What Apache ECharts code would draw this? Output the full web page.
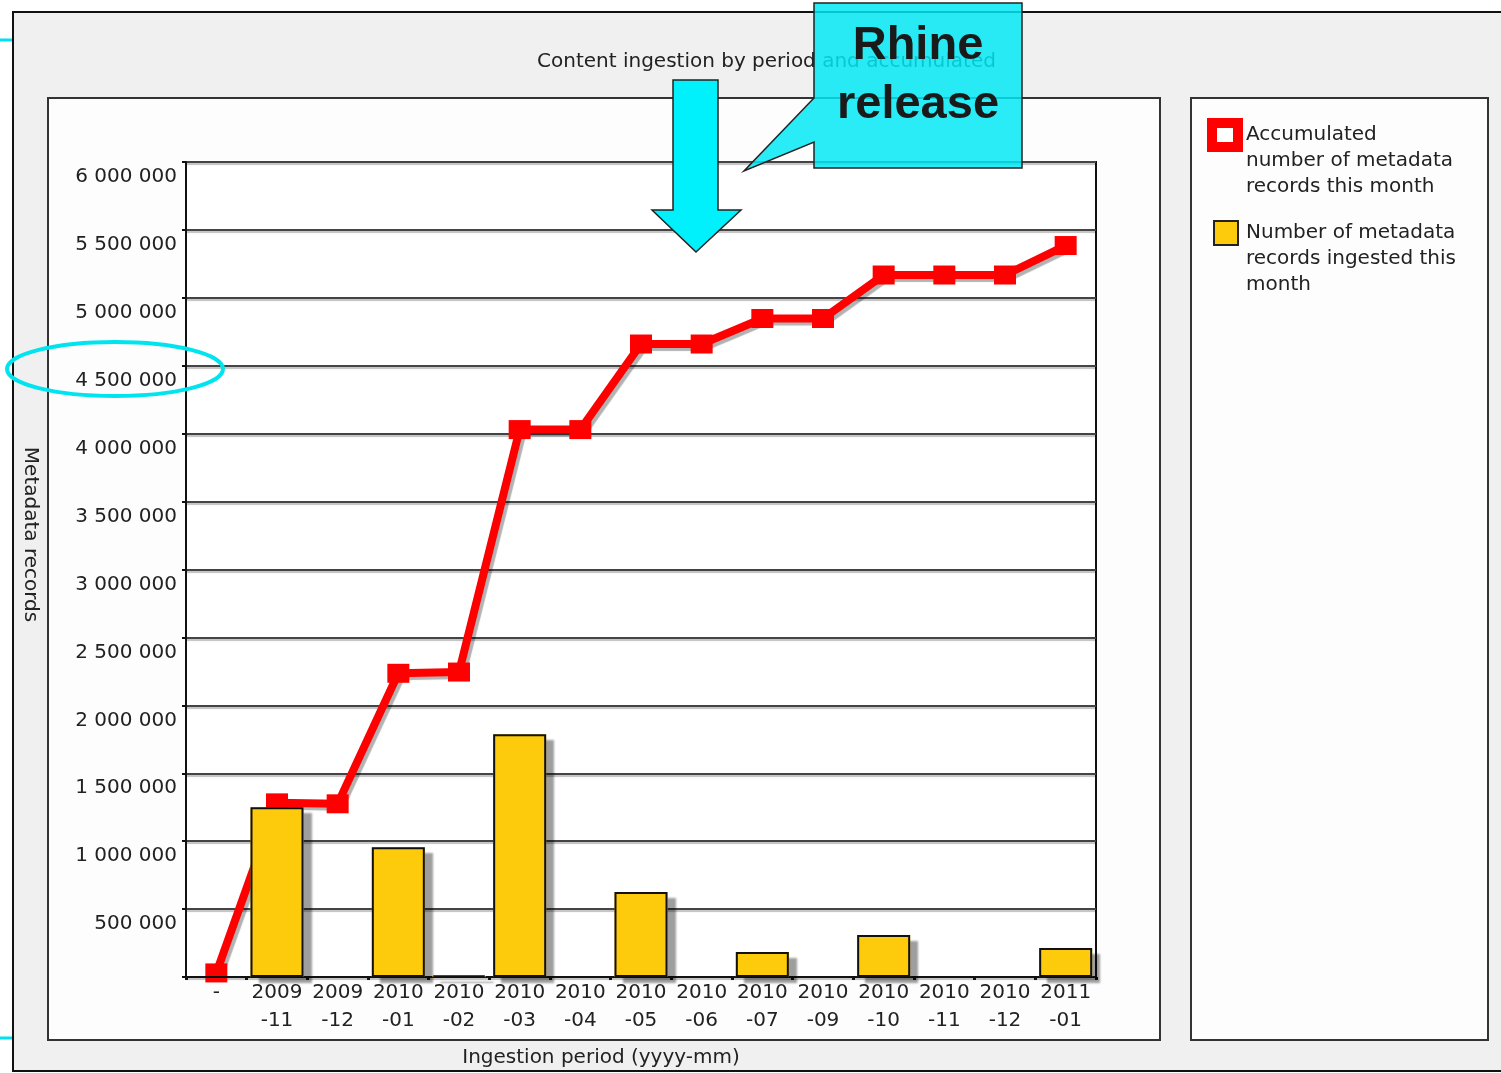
<!DOCTYPE html>
<html>
<head>
<meta charset="utf-8">
<title>Content ingestion by period and accumulated</title>
<script src="https://cdn.jsdelivr.net/npm/echarts@6.0.0/dist/echarts.min.js"></script>
<style>
  html, body { margin: 0; padding: 0; background: #fff; }
  #main { width: 1501px; height: 1073px; }
</style>
</head>
<body>
<div id="main"></div>
<script>
const periods = ["-", "2009\n-11", "2009\n-12", "2010\n-01", "2010\n-02", "2010\n-03", "2010\n-04",
  "2010\n-05", "2010\n-06", "2010\n-07", "2010\n-09", "2010\n-10", "2010\n-11", "2010\n-12", "2011\n-01"];
const ingested = [0, 1250000, 0, 956000, 10000, 1787000, 0, 625000, 0, 184000, 0, 309000, 0, 0, 213000];
const accumulated = [30000, 1282000, 1275000, 2236000, 2245000, 4030000, 4030000, 4660000, 4660000,
  4848000, 4848000, 5168000, 5168000, 5168000, 5385000];

const accName = "Accumulated\nnumber of metadata\nrecords this month";
const ingName = "Number of metadata\nrecords ingested this\nmonth";

const font = "DejaVu Sans";
const ink = "#222";
const barYellow = "#fdcb0c";

function spaced(v) {
  if (v === 0) return "";
  return String(v).replace(/\B(?=(\d{3})+(?!\d))/g, " ");
}

function legendText(name) {
  return name.split("\n").map(s => "{a|" + s + "}").join("\n");
}

const options = {
  animation: false,
  backgroundColor: "#fff",
  textStyle: { fontFamily: font },
  title: {
    text: "Content ingestion by period and accumulated",
    left: 537,
    top: 52,
    padding: 0,
    textStyle: { fontFamily: font, fontSize: 20, fontWeight: "normal", color: ink }
  },
  legend: [
    {
      data: [{ name: accName, icon: "rect", itemStyle: { color: "#fff", borderColor: "#ff0000", borderWidth: 10 } }],
      orient: "vertical",
      left: 1207,
      top: 118,
      padding: 0,
      itemWidth: 26,
      itemHeight: 24,
      formatter: legendText,
      textStyle: {
        color: ink,
        padding: [52, 0, 0, 3],
        rich: { a: { fontFamily: font, fontSize: 20, lineHeight: 26, color: ink } }
      }
    },
    {
      data: [{ name: ingName, icon: "rect", itemStyle: { color: barYellow, borderColor: "#222", borderWidth: 2 } }],
      orient: "vertical",
      left: 1213,
      top: 220,
      padding: 0,
      itemWidth: 24,
      itemHeight: 24,
      formatter: legendText,
      textStyle: {
        color: ink,
        padding: [52, 0, 0, 3],
        rich: { a: { fontFamily: font, fontSize: 20, lineHeight: 26, color: ink } }
      }
    }
  ],
  grid: {
    left: 186,
    top: 162,
    right: 405,
    bottom: 96,
    outerBoundsMode: "none",
    show: true,
    backgroundColor: "#fff",
    borderColor: "#111",
    borderWidth: 2
  },
  xAxis: {
    type: "category",
    data: periods,
    boundaryGap: true,
    name: "Ingestion period (yyyy-mm)",
    nameLocation: "middle",
    nameGap: 71,
    nameTextStyle: { fontFamily: font, fontSize: 20, color: ink, padding: [0, 80, 0, 0] },
    axisLine: { lineStyle: { color: "#111", width: 2 } },
    axisTick: { show: true, length: 3, lineStyle: { color: "#111", width: 3 } },
    axisLabel: { interval: 0, fontFamily: font, fontSize: 20, lineHeight: 28, color: ink, margin: 2 }
  },
  yAxis: {
    type: "value",
    min: 0,
    max: 6000000,
    interval: 500000,
    name: "Metadata records",
    nameLocation: "middle",
    nameRotate: -90,
    nameGap: 146,
    nameTextStyle: { fontFamily: font, fontSize: 20, color: ink, padding: [0, 70, 0, 0] },
    axisLine: { show: true, lineStyle: { color: "#111", width: 2 } },
    axisTick: { show: true, length: 4, lineStyle: { color: "#111", width: 2 } },
    axisLabel: {
      formatter: spaced,
      fontFamily: font,
      fontSize: 20,
      color: ink,
      margin: 9,
      verticalAlign: "top",
      padding: [5, 0, 0, 0]
    },
    splitLine: {
      show: true,
      lineStyle: { color: "#444", width: 2, shadowColor: "rgba(0,0,0,0.25)", shadowOffsetY: 2, shadowBlur: 1 }
    }
  },
  series: [
    {
      name: accName,
      type: "line",
      data: accumulated,
      z: 2,
      symbol: "rect",
      symbolSize: [22, 19],
      itemStyle: { color: "#ff0000" },
      lineStyle: {
        color: "#ff0000",
        width: 8,
        shadowColor: "rgba(0,0,0,0.3)",
        shadowOffsetX: 3,
        shadowOffsetY: 3,
        shadowBlur: 1
      }
    },
    {
      // filled bars carrying the grey drop shadow
      name: ingName,
      type: "bar",
      data: ingested,
      z: 3,
      barWidth: 53,
      barGap: "-100%",
      itemStyle: {
        color: barYellow,
        shadowColor: "rgba(0,0,0,0.38)",
        shadowOffsetX: 8,
        shadowOffsetY: 6,
        shadowBlur: 2
      }
    },
    {
      // outlines drawn on top, without shadow
      name: ingName,
      type: "bar",
      data: ingested,
      z: 4,
      barWidth: 53,
      barGap: "-100%",
      itemStyle: { color: "transparent", borderColor: "#111", borderWidth: 2 }
    }
  ],
  graphic: [
    { type: "rect", z: -10, shape: { x: 13, y: 12, width: 1492, height: 1059 }, style: { fill: "#f0f0f0", stroke: "#111", lineWidth: 2 } },
    { type: "rect", z: -9, shape: { x: 48, y: 98, width: 1112, height: 942 }, style: { fill: "#fdfdfd", stroke: "#333", lineWidth: 2 } },
    { type: "rect", z: -9, shape: { x: 1191, y: 98, width: 297, height: 942 }, style: { fill: "#fdfdfd", stroke: "#333", lineWidth: 2 } },
    { type: "line", z: 100, shape: { x1: 0, y1: 40, x2: 12, y2: 40 }, style: { stroke: "#00e0f0", lineWidth: 3 } },
    { type: "line", z: 100, shape: { x1: 0, y1: 1038, x2: 12, y2: 1038 }, style: { stroke: "#00e0f0", lineWidth: 3 } },
    { type: "ellipse", z: 100, shape: { cx: 115, cy: 369, rx: 108, ry: 27 }, style: { fill: "none", stroke: "#00e4f0", lineWidth: 4 } },
    {
      type: "polygon", z: 100,
      shape: { points: [[673, 80], [718, 80], [718, 210], [741, 210], [696, 252], [652, 210], [673, 210]] },
      style: { fill: "#00f0fc", stroke: "#222", lineWidth: 1.5 }
    },
    {
      type: "polygon", z: 100,
      shape: { points: [[814, 3], [1022, 3], [1022, 168], [814, 168], [814, 142], [744, 171], [814, 98]] },
      style: { fill: "rgba(0,232,245,0.84)", stroke: "#222", lineWidth: 1.5 }
    },
    {
      type: "text", z: 101, x: 918, y: 17,
      style: {
        text: "Rhine\nrelease",
        fontFamily: "Liberation Sans",
        fontWeight: "bold",
        fontSize: 47,
        lineHeight: 59,
        fill: "#1a1a1a",
        align: "center",
        verticalAlign: "top"
      }
    }
  ]
};

const myChart = echarts.init(document.getElementById("main"));
myChart.setOption(options);
window.onresize = function() {
  myChart.resize();
};
</script>
</body>
</html>
